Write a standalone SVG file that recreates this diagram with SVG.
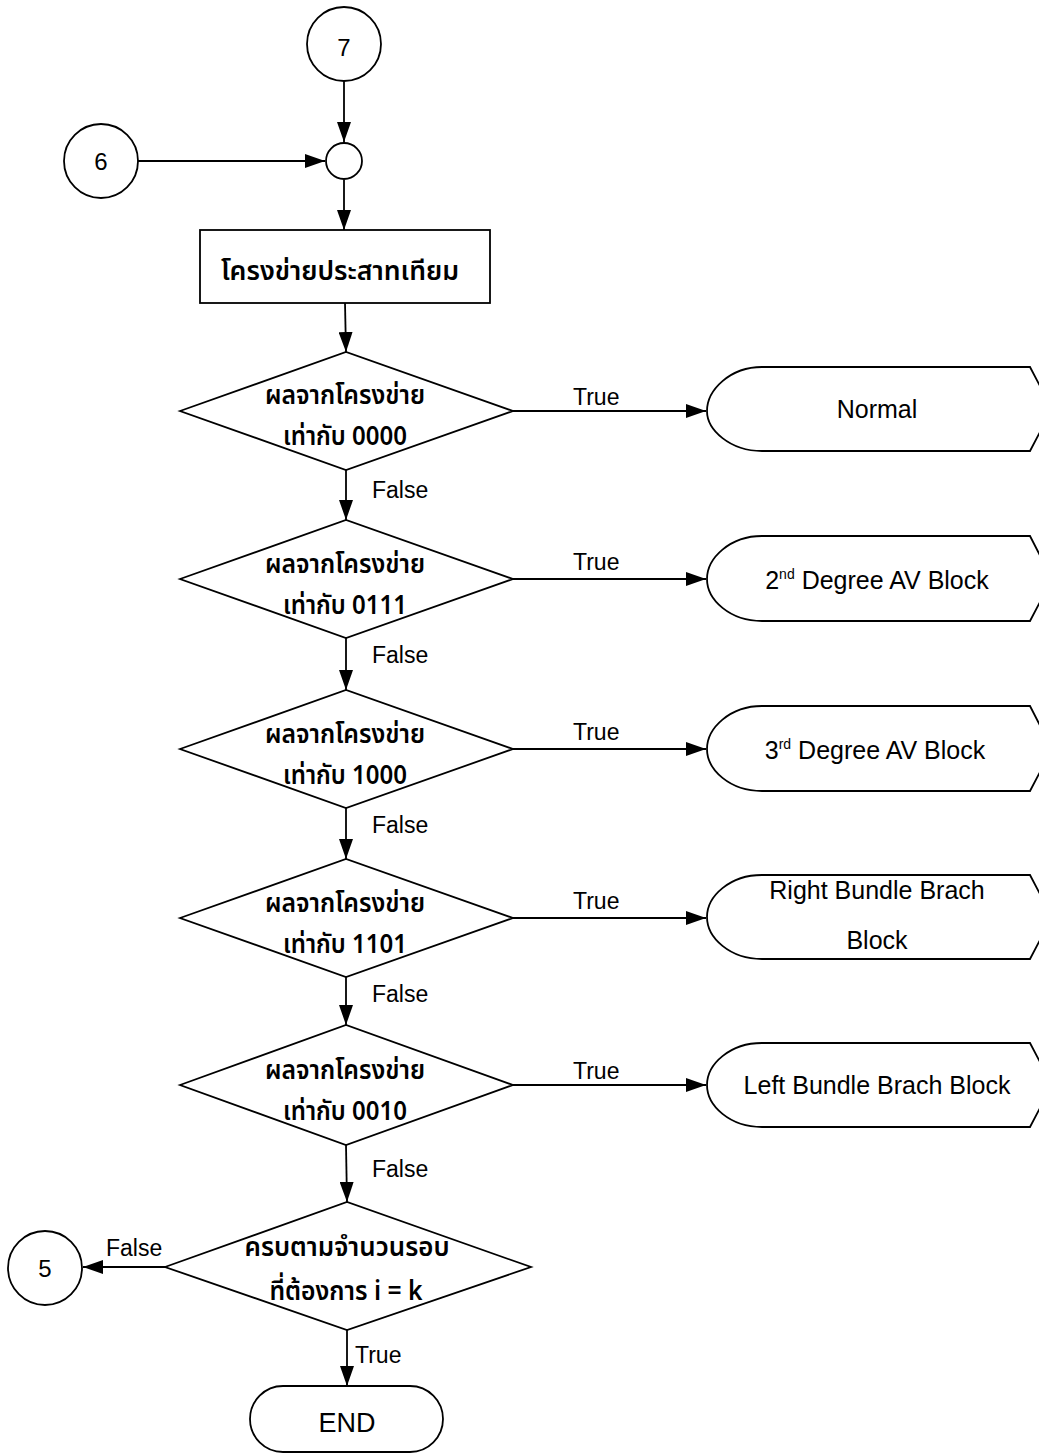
<svg xmlns="http://www.w3.org/2000/svg" width="1039" height="1456" viewBox="0 0 1039 1456">
  <defs>
    <marker id="arrow" markerWidth="20" markerHeight="14" refX="20" refY="7" orient="auto" markerUnits="userSpaceOnUse">
      <path d="M0,0 L20,7 L0,14 Z" fill="#000"/>
    </marker>
    <style>
      .shape { fill: #fff; stroke: #000; stroke-width: 1.8; }
      .edge { fill: none; stroke: #000; stroke-width: 1.8; marker-end: url(#arrow); }
      .lat { font-family: "Liberation Sans", Arial, sans-serif; fill: #000; text-anchor: middle; }
      .thai { font-family: "Noto Sans Thai", "Noto Sans", "DejaVu Sans", sans-serif; fill: #000; text-anchor: middle; font-size: 27px; font-weight: 600; }
      .num { font-size: 24px; }
      .disp { font-size: 25px; }
      .lbl { font-size: 23px; text-anchor: start; }
    </style>
  </defs>
  <rect width="1039" height="1456" fill="#fff"/>

  <!-- connectors -->
  <g id="connectors">
    <line class="edge" x1="344" y1="81" x2="344" y2="142"/>
    <line class="edge" x1="138" y1="161" x2="325" y2="161"/>
    <line class="edge" x1="344" y1="180" x2="344" y2="230"/>
    <line class="edge" x1="345" y1="303" x2="346" y2="352"/>
    <line class="edge" x1="346" y1="470" x2="346" y2="520"/>
    <line class="edge" x1="346" y1="638" x2="346" y2="690"/>
    <line class="edge" x1="346" y1="808" x2="346" y2="859"/>
    <line class="edge" x1="346" y1="977" x2="346" y2="1025"/>
    <line class="edge" x1="346" y1="1145" x2="347" y2="1202"/>
    <line class="edge" x1="347" y1="1330" x2="347" y2="1386"/>
    <line class="edge" x1="165" y1="1267" x2="83" y2="1267"/>
    <line class="edge" x1="513" y1="411" x2="706" y2="411"/>
    <line class="edge" x1="513" y1="579" x2="706" y2="579"/>
    <line class="edge" x1="513" y1="749" x2="706" y2="749"/>
    <line class="edge" x1="513" y1="918" x2="706" y2="918"/>
    <line class="edge" x1="513" y1="1085" x2="706" y2="1085"/>
    <text class="lat lbl" x="573" y="405">True</text>
    <text class="lat lbl" x="573" y="570">True</text>
    <text class="lat lbl" x="573" y="740">True</text>
    <text class="lat lbl" x="573" y="909">True</text>
    <text class="lat lbl" x="573" y="1079">True</text>
    <text class="lat lbl" x="372" y="498">False</text>
    <text class="lat lbl" x="372" y="663">False</text>
    <text class="lat lbl" x="372" y="833">False</text>
    <text class="lat lbl" x="372" y="1002">False</text>
    <text class="lat lbl" x="372" y="1177">False</text>
    <text class="lat lbl" x="106" y="1256">False</text>
    <text class="lat lbl" x="355" y="1363">True</text>
  </g>

  <!-- off-page connector 7 -->
  <g id="conn7">
    <circle class="shape" cx="344" cy="44" r="37"/>
    <text class="lat num" x="344" y="56">7</text>
  </g>
  <!-- off-page connector 6 -->
  <g id="conn6">
    <circle class="shape" cx="101" cy="161" r="37"/>
    <text class="lat num" x="101" y="170">6</text>
  </g>
  <!-- junction -->
  <g id="junction">
    <circle class="shape" cx="344" cy="161" r="18"/>
  </g>

  <!-- neural network process -->
  <g id="ann">
    <rect class="shape" x="200" y="230" width="290" height="73"/>
    <text class="thai" x="340" y="280" textLength="238" lengthAdjust="spacingAndGlyphs">โครงข่ายประสาทเทียม</text>
  </g>

  <!-- decisions -->
  <g id="dec0000">
    <polygon class="shape" points="180,411 346,352 513,411 346,470"/>
    <text class="thai" x="345" y="404" textLength="160" lengthAdjust="spacingAndGlyphs">ผลจากโครงข่าย</text>
    <text class="thai" x="345" y="445" textLength="124" lengthAdjust="spacingAndGlyphs">เท่ากับ 0000</text>
  </g>
  <g id="dec0111">
    <polygon class="shape" points="180,579 346,520 513,579 346,638"/>
    <text class="thai" x="345" y="573" textLength="160" lengthAdjust="spacingAndGlyphs">ผลจากโครงข่าย</text>
    <text class="thai" x="345" y="614" textLength="124" lengthAdjust="spacingAndGlyphs">เท่ากับ 0111</text>
  </g>
  <g id="dec1000">
    <polygon class="shape" points="180,749 346,690 513,749 346,808"/>
    <text class="thai" x="345" y="743" textLength="160" lengthAdjust="spacingAndGlyphs">ผลจากโครงข่าย</text>
    <text class="thai" x="345" y="784" textLength="124" lengthAdjust="spacingAndGlyphs">เท่ากับ 1000</text>
  </g>
  <g id="dec1101">
    <polygon class="shape" points="180,918 346,859 513,918 346,977"/>
    <text class="thai" x="345" y="912" textLength="160" lengthAdjust="spacingAndGlyphs">ผลจากโครงข่าย</text>
    <text class="thai" x="345" y="953" textLength="124" lengthAdjust="spacingAndGlyphs">เท่ากับ 1101</text>
  </g>
  <g id="dec0010">
    <polygon class="shape" points="180,1085 346,1025 513,1085 346,1145"/>
    <text class="thai" x="345" y="1079" textLength="160" lengthAdjust="spacingAndGlyphs">ผลจากโครงข่าย</text>
    <text class="thai" x="345" y="1120" textLength="124" lengthAdjust="spacingAndGlyphs">เท่ากับ 0010</text>
  </g>
  <g id="decLoop">
    <polygon class="shape" points="165,1267 347,1202 531,1267 347,1330"/>
    <text class="thai" x="347" y="1256" textLength="205" lengthAdjust="spacingAndGlyphs">ครบตามจำนวนรอบ</text>
    <text class="thai" x="346" y="1300" textLength="153" lengthAdjust="spacingAndGlyphs">ที่ต้องการ i = k</text>
  </g>

  <!-- display outputs -->
  <g id="outNormal">
    <path class="shape" d="M762,367 L1030,367 L1052,409 L1030,451 L762,451 C730,451 707,430 707,411 C707,390 730,367 762,367 Z"/>
    <text class="lat disp" x="877" y="418">Normal</text>
  </g>
  <g id="out2nd">
    <path class="shape" d="M762,536 L1030,536 L1052,579 L1030,621 L762,621 C730,621 707,600 707,579 C707,558 730,536 762,536 Z"/>
    <text class="lat disp" x="877" y="589">2<tspan font-size="14" dy="-10">nd</tspan><tspan dy="10"> Degree AV Block</tspan></text>
  </g>
  <g id="out3rd">
    <path class="shape" d="M762,706 L1030,706 L1052,749 L1030,791 L762,791 C730,791 707,770 707,749 C707,728 730,706 762,706 Z"/>
    <text class="lat disp" x="875" y="759">3<tspan font-size="14" dy="-10">rd</tspan><tspan dy="10"> Degree AV Block</tspan></text>
  </g>
  <g id="outRBBB">
    <path class="shape" d="M762,875 L1030,875 L1052,917 L1030,959 L762,959 C730,959 707,938 707,917 C707,896 730,875 762,875 Z"/>
    <text class="lat disp" x="877" y="899">Right Bundle Brach</text>
    <text class="lat disp" x="877" y="949">Block</text>
  </g>
  <g id="outLBBB">
    <path class="shape" d="M762,1043 L1030,1043 L1052,1085 L1030,1127 L762,1127 C730,1127 707,1106 707,1085 C707,1064 730,1043 762,1043 Z"/>
    <text class="lat disp" x="877" y="1094">Left Bundle Brach Block</text>
  </g>

  <!-- off-page connector 5 -->
  <g id="conn5">
    <circle class="shape" cx="45" cy="1268" r="37"/>
    <text class="lat num" x="45" y="1277">5</text>
  </g>

  <!-- terminator -->
  <g id="end">
    <rect class="shape" x="250" y="1386" width="193" height="66" rx="33" ry="33"/>
    <text class="lat" x="347" y="1432" font-size="27">END</text>
  </g>
</svg>
